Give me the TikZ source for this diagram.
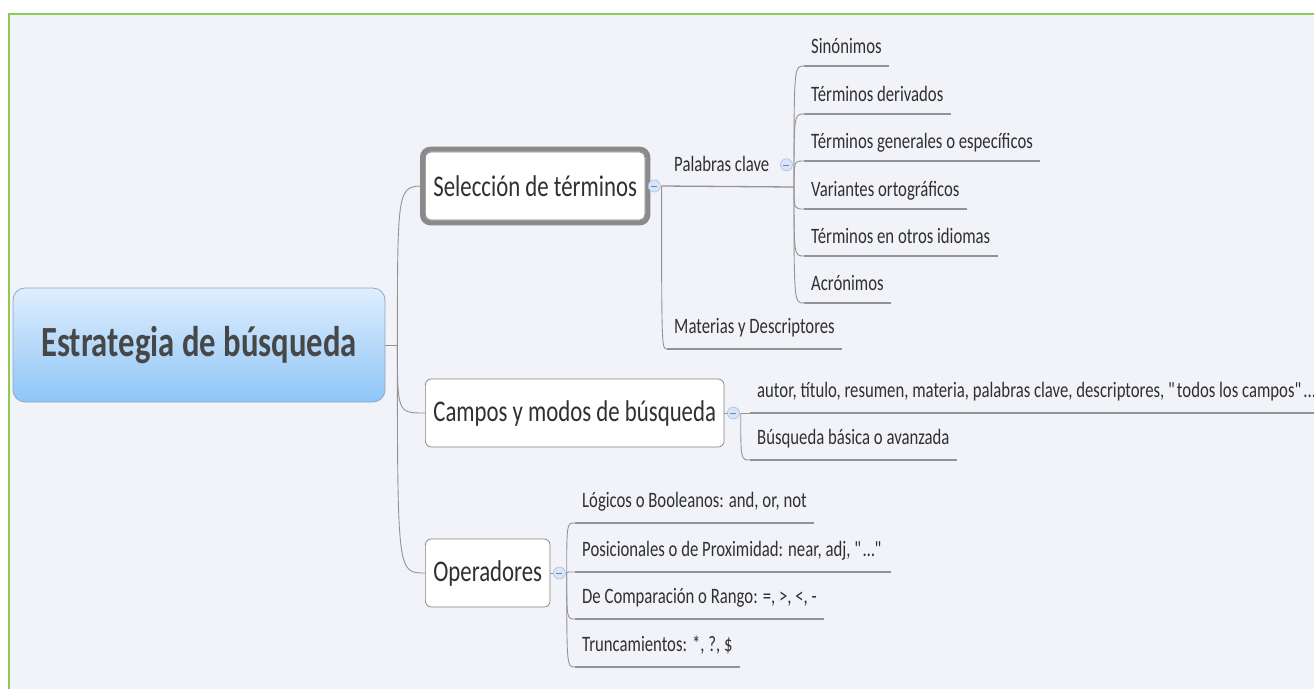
\documentclass[tikz,border=0pt]{standalone}
\usepackage{fontspec}
\setmainfont{Carlito}[FakeStretch=0.76]
\usetikzlibrary{fit}
\definecolor{bg}{HTML}{F2F3F8}
\definecolor{frameGreen}{HTML}{8DCB52}
\definecolor{lineGray}{HTML}{939393}
\definecolor{boxGray}{HTML}{808080}
\definecolor{selGray}{HTML}{8A8A8A}
\definecolor{txt}{HTML}{303030}
\definecolor{rootTxt}{HTML}{474747}
\definecolor{rootTop}{HTML}{DFEEFD}
\definecolor{rootBot}{HTML}{8EC5F7}
\definecolor{rootBorder}{HTML}{8FA7C2}
\definecolor{colFill}{HTML}{D8E5F8}
\definecolor{colDraw}{HTML}{A4BFE6}
\begin{document}
\begin{tikzpicture}[x=1pt,y=-1pt,
 rootbox/.style={draw=rootBorder, line width=0.8pt, rounded corners=12pt, top color=rootTop, bottom color=rootBot, minimum width=372pt, minimum height=114pt, text=rootTxt, font=\fontsize{43}{48}\selectfont\bfseries},
 topic/.style={draw=boxGray, line width=0.7pt, fill=white, rounded corners=6pt, text=txt, font=\fontsize{30}{36}\selectfont, inner xsep=8pt, inner ysep=0pt, minimum height=68pt, anchor=west},
 selframe/.style={draw=selGray, line width=5pt, rounded corners=8pt, inner sep=2.5pt},
 leaf/.style={text=txt, font=\fontsize{22}{26}\selectfont, inner xsep=7pt, inner ysep=0pt, text height=16pt, text depth=15pt, anchor=south west},
 leafhi/.style={leaf, text depth=12.5pt},
 uline/.style={draw=lineGray, line width=1.3pt},
 conn/.style={draw=lineGray, line width=0.9pt},
 collapse/.style={circle, draw=colDraw, fill=colFill, line width=0.6pt, minimum size=12pt, inner sep=0pt,
   path picture={\draw[colDraw!70!black, line width=0.6pt] ([xshift=-3pt]path picture bounding box.center) -- ([xshift=3pt]path picture bounding box.center);}}
]
\useasboundingbox (0,0) rectangle (1314,689);
\fill[white] (0,0) rectangle (1314,689);
\fill[bg] (9,14) rectangle (1314,689);
\draw[frameGreen, line width=2.2pt] (9,689) -- (9,14) -- (1314,14);

% root
\node[rootbox] (root) at (199,345) {Estrategia de búsqueda};
\coordinate (rj) at ([xshift=12pt]root.east);
\draw[conn] (root.east) -- (rj);

% main topics
\node[topic] (sel) at (425,186) {Selección de términos};
\node[selframe, fit=(sel)] (selfr) {};
\node[topic] (camp) at (425,413) {Campos y modos de búsqueda};
\node[topic] (op) at (425,573) {Operadores};

\draw[conn] (rj) .. controls (rj |- sel.west) .. (sel.west);
\draw[conn] (rj) .. controls (rj |- camp.west) .. (camp.west);
\draw[conn] (rj) .. controls (rj |- op.west) .. (op.west);

% collapse markers
\node[collapse] (selc) at ([xshift=9pt]sel.east) {};
\node[collapse] (campc) at ([xshift=9pt]camp.east) {};
\node[collapse] (opc) at ([xshift=9pt]op.east) {};
\draw[conn] (sel.east) -- (selc.west);
\draw[conn] (camp.east) -- (campc.west);
\draw[conn] (op.east) -- (opc.west);
\coordinate (selj) at ([xshift=1pt]selc.east);
\coordinate (campj) at ([xshift=1pt]campc.east);
\coordinate (opj) at ([xshift=1pt]opc.east);

% Seleccion children
\node[leaf] (pk) at (667,187) {Palabras clave};
\node[collapse] (pkc) at ([xshift=10pt,yshift=6.5pt]pk.east) {};
\coordinate (pkj) at (794,187);
\draw[uline] (selj) -- (pkj);
\node[leaf] (mat) at (667,349) {Materias y Descriptores};
\draw[conn] (selj) .. controls (selj |- mat.south west) .. (mat.south west);
\draw[uline] (mat.south west) -- (mat.south east);

% Palabras clave children
\node[leafhi] (sin) at (804,66) {Sinónimos};
\node[leafhi] (der) at (804,114) {Términos derivados};
\node[leafhi] (gen) at (804,161) {Términos generales o específicos};
\node[leafhi] (var) at (804,209) {Variantes ortográficos};
\node[leafhi] (idi) at (804,256) {Términos en otros idiomas};
\node[leafhi] (acr) at (804,303) {Acrónimos};
\foreach \n in {sin,der,gen,var,idi,acr}{
  \draw[conn] (pkj) .. controls (pkj |- \n.south west) .. (\n.south west);
  \draw[uline] (\n.south west) -- (\n.south east);
}

% Campos children
\node[leaf] (aut) at (750,413) {autor, título, resumen, materia, palabras clave, descriptores, \textquotedbl todos los campos\textquotedbl...};
\node[leaf] (bus) at (750,460) {Búsqueda básica o avanzada};
\draw[conn] (campj) -- (aut.south west);
\draw[uline] (aut.south west) -- (aut.south east);
\draw[conn] (campj) .. controls (campj |- bus.south west) .. (bus.south west);
\draw[uline] (bus.south west) -- (bus.south east);

% Operadores children
\node[leaf] (log) at (575,523) {Lógicos o Booleanos: and, or, not};
\node[leaf] (pos) at (575,572) {Posicionales o de Proximidad: near, adj, \textquotedbl…\textquotedbl};
\node[leaf] (com) at (575,619) {De Comparación o Rango: =, >, <, -};
\node[leaf] (tru) at (575,667) {Truncamientos: *, ?, \$};
\foreach \n in {log,pos,com,tru}{
  \draw[conn] (opj) .. controls (opj |- \n.south west) .. (\n.south west);
  \draw[uline] (\n.south west) -- (\n.south east);
}
\end{tikzpicture}
\end{document}
